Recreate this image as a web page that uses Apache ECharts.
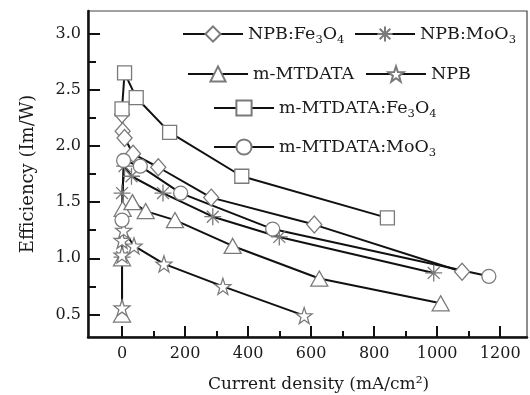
<!DOCTYPE html>
<html>
<head>
<meta charset="utf-8">
<script src="https://cdn.jsdelivr.net/npm/echarts@6/dist/echarts.min.js"></script>
<style>
  html, body { margin: 0; padding: 0; background: #fff; }
  #chart { width: 530px; height: 395px; }
</style>
</head>
<body>
<div id="chart"></div>
<script>
// data: current density (mA/cm2) vs efficiency (lm/W)
const npbFe3o4X = [0, 2, 8, 35, 115, 283, 610, 1079];
const npbFe3o4Y = [2.28, 2.13, 2.07, 1.93, 1.81, 1.54, 1.30, 0.88];

const npbMoo3X = [0, 0, 8, 30, 130, 288, 499, 989];
const npbMoo3Y = [1.01, 1.58, 1.82, 1.73, 1.58, 1.37, 1.19, 0.87];

const mtdataX = [0, 0, 2, 33, 75, 168, 351, 626, 1011];
const mtdataY = [0.50, 1.00, 1.44, 1.50, 1.42, 1.34, 1.11, 0.82, 0.60];

const npbX = [0, 0, 0, 5, 38, 133, 320, 578];
const npbY = [0.56, 1.03, 1.16, 1.25, 1.11, 0.95, 0.75, 0.49];

const mtdataFe3o4X = [0, 8, 45, 151, 380, 842];
const mtdataFe3o4Y = [2.33, 2.65, 2.43, 2.12, 1.73, 1.36];

const mtdataMoo3X = [0, 5, 58, 186, 478, 1164];
const mtdataMoo3Y = [1.34, 1.87, 1.82, 1.58, 1.26, 0.84];

// axis ranges (data frame) and labelled tick span
const xRange = [-108, 1285];
const yRange = [0.3, 3.2];
const xTickSpan = [0, 1200];
const yTickSpan = [0.5, 3.0];
const xStep = 200;
const yStep = 0.5;

const FONT = '"DejaVu Serif", "Liberation Serif", serif';
const INK = '#1a1a1a';

const ASTERISK = 'path://M0,-10L0,10M-10,0L10,0M-7,-7L7,7M-7,7L7,-7';
const STAR =
  'path://M0,-10L2.35,-3.24L9.51,-3.09L3.8,1.24L5.88,8.09L0,4L-5.88,8.09L-3.8,1.24L-9.51,-3.09L-2.35,-3.24Z';

const seriesDefs = [
  { name: 'NPB:Fe3O4', label: 'NPB:Fe{sub|3}O{sub|4}', x: npbFe3o4X, y: npbFe3o4Y, symbol: 'diamond', size: [15, 17], legend: { left: 182, top: 22 } },
  { name: 'NPB:MoO3', label: 'NPB:MoO{sub|3}', x: npbMoo3X, y: npbMoo3Y, symbol: ASTERISK, size: 17, legend: { left: 354, top: 22 } },
  { name: 'm-MTDATA', label: 'm-MTDATA', x: mtdataX, y: mtdataY, symbol: 'triangle', size: [17, 15], legend: { left: 187, top: 62 } },
  { name: 'NPB', label: 'NPB', x: npbX, y: npbY, symbol: STAR, size: 16, legend: { left: 365, top: 62 } },
  { name: 'm-MTDATA:Fe3O4', label: 'm-MTDATA:Fe{sub|3}O{sub|4}', x: mtdataFe3o4X, y: mtdataFe3o4Y, symbol: 'rect', size: 14, legend: { left: 213, top: 96 } },
  { name: 'm-MTDATA:MoO3', label: 'm-MTDATA:MoO{sub|3}', x: mtdataMoo3X, y: mtdataMoo3Y, symbol: 'circle', size: 14, legend: { left: 213, top: 135 } }
];

const labelMap = {};
seriesDefs.forEach((d) => (labelMap[d.name] = d.label));

// plot frame in pixels
const W = 530;
const H = 395;
const frame = { left: 88, right: 527, top: 11, bottom: 337 };

const toPx = (v) => frame.left + ((v - xRange[0]) / (xRange[1] - xRange[0])) * (frame.right - frame.left);
const toPy = (v) => frame.bottom - ((v - yRange[0]) / (yRange[1] - yRange[0])) * (frame.bottom - frame.top);

// second grid only carries the ticks, sized so that its ends sit on round values
const tickGrid = {
  left: toPx(xTickSpan[0]),
  right: W - toPx(xTickSpan[1]),
  top: toPy(yTickSpan[1]),
  bottom: H - toPy(yTickSpan[0]),
  outerBoundsMode: 'none',
  containLabel: false
};

const legendText = {
  fontFamily: FONT,
  fontSize: 17.5,
  color: INK,
  lineHeight: 24,
  rich: {
    sub: { fontFamily: FONT, fontSize: 11.5, color: INK, verticalAlign: 'bottom' }
  }
};

const tickLabel = { fontFamily: FONT, fontSize: 16, color: INK };
const tickLine = { color: '#111', width: 2 };

const chart = echarts.init(document.getElementById('chart'), null, { renderer: 'canvas' });

const option = {
  animation: false,
  backgroundColor: '#fff',
  grid: [
    {
      left: frame.left,
      right: W - frame.right,
      top: frame.top,
      bottom: H - frame.bottom,
      outerBoundsMode: 'none',
      containLabel: false,
      show: true,
      borderColor: '#444',
      borderWidth: 1.2,
      backgroundColor: 'transparent'
    },
    tickGrid
  ],
  legend: seriesDefs.map((d) => ({
    data: [d.name],
    left: d.legend.left,
    top: d.legend.top,
    padding: 0,
    itemWidth: 60,
    itemHeight: 19,
    selectedMode: false,
    formatter: (name) => labelMap[name],
    textStyle: legendText
  })),
  xAxis: [
    {
      type: 'value',
      gridIndex: 0,
      min: xRange[0],
      max: xRange[1],
      name: 'Current density (mA/cm²)',
      nameLocation: 'middle',
      nameGap: 39,
      nameTextStyle: { fontFamily: FONT, fontSize: 17, color: INK, padding: [0, 0, 0, 22] },
      axisLine: { show: true, onZero: false, lineStyle: { color: '#111', width: 2.5 } },
      axisTick: { show: false },
      axisLabel: { show: false },
      splitLine: { show: false }
    },
    {
      type: 'value',
      gridIndex: 1,
      min: xTickSpan[0],
      max: xTickSpan[1],
      interval: xStep,
      position: 'bottom',
      offset: frame.bottom - toPy(yTickSpan[0]),
      axisLine: { show: false, onZero: false },
      axisTick: { show: true, inside: true, length: 11, lineStyle: tickLine },
      minorTick: { show: true, splitNumber: 2, length: 6, lineStyle: tickLine },
      axisLabel: { margin: 9, formatter: (v) => String(v), ...tickLabel },
      splitLine: { show: false }
    }
  ],
  yAxis: [
    {
      type: 'value',
      gridIndex: 0,
      min: yRange[0],
      max: yRange[1],
      name: 'Efficiency (Im/W)',
      nameLocation: 'middle',
      nameGap: 51,
      nameTextStyle: { fontFamily: FONT, fontSize: 18, color: INK },
      axisLine: { show: true, onZero: false, lineStyle: { color: '#111', width: 2.5 } },
      axisTick: { show: false },
      axisLabel: { show: false },
      splitLine: { show: false }
    },
    {
      type: 'value',
      gridIndex: 1,
      min: yTickSpan[0],
      max: yTickSpan[1],
      interval: yStep,
      position: 'left',
      offset: toPx(xTickSpan[0]) - frame.left,
      axisLine: { show: false, onZero: false },
      axisTick: { show: true, inside: true, length: 12, lineStyle: tickLine },
      minorTick: { show: true, splitNumber: 2, length: 8, lineStyle: tickLine },
      axisLabel: { margin: 7, formatter: (v) => v.toFixed(1), ...tickLabel },
      splitLine: { show: false }
    }
  ],
  series: seriesDefs.map((d) => ({
    name: d.name,
    type: 'line',
    xAxisIndex: 0,
    yAxisIndex: 0,
    data: d.x.map((x, i) => [x, d.y[i]]),
    symbol: d.symbol,
    symbolSize: d.size,
    showAllSymbol: true,
    lineStyle: { color: '#111', width: 2 },
    itemStyle: { color: '#fff', borderColor: '#7a7a7a', borderWidth: 1.3 },
    emphasis: { disabled: true }
  }))
};

chart.setOption(option);
</script>
</body>
</html>
